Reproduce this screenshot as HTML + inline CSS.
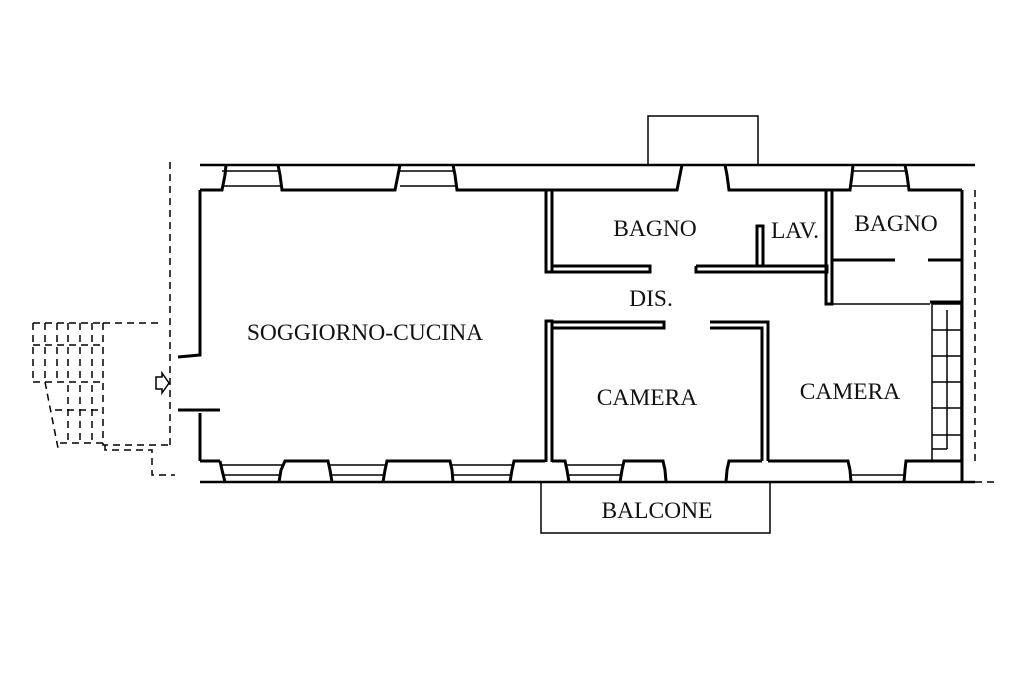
<!DOCTYPE html>
<html><head><meta charset="utf-8"><style>
html,body{margin:0;padding:0;background:#fff;width:1024px;height:682px;overflow:hidden}
svg{display:block}
text{font-family:"Liberation Serif",serif;font-size:23.5px;fill:#111}
</style></head><body>
<svg width="1024" height="682" viewBox="0 0 1024 682">
<g stroke="#000" fill="none" stroke-width="3">
<line x1="200" y1="165" x2="975" y2="165" stroke-width="2.5"/>
<polyline points="200,190 222,190 225,175 226,165"/>
<polyline points="278,165 280,175 282,190 395,190 398,175 400,165"/>
<polyline points="453,165 455,175 457,190 677,190 680,175 682,165"/>
<polyline points="725,165 727,175 729,190 850,190 852,175 853,165"/>
<polyline points="905,165 907,175 909,190 962,190"/>
<line x1="200" y1="482" x2="975" y2="482" stroke-width="2.5"/>
<line x1="200" y1="461" x2="220" y2="461"/>
<polyline points="220,461 222,470 225,482"/>
<polyline points="279,482 281,470 285,461 328,461 330,470 332,482"/>
<polyline points="383,482 385,470 387,461 450,461 452,470 453,482"/>
<polyline points="510,482 512,470 514,461 545,461"/>
<polyline points="552,461 565,461 567,470 569,482"/>
<polyline points="620,482 622,470 624,461 663,461 665,470 666,482"/>
<polyline points="726,482 727,470 729,461 762,461"/>
<polyline points="768,461 848,461 850,470 851,482"/>
<polyline points="904,482 905,470 906,461 962,461 962,482"/>
<polyline points="200,190 200,355 178,357"/>
<polyline points="200,413 200,461"/>
<polyline points="178,410 220,410"/>
<polyline points="546,190 546,272 552,272 552,190"/>
<polyline points="552,266 650,266 650,272 552,272"/>
<polyline points="696,266 827,266 827,272 696,272 696,266"/>
<polyline points="757,266 757,226 763,226 763,266"/>
<polyline points="826,190 826,304 832,304 832,190"/>
<polyline points="832,260 895,260"/>
<polyline points="928,260 962,260"/>
<line x1="962" y1="190" x2="962" y2="461"/>
<polyline points="546,462 546,321 552,321 552,462"/>
<polyline points="552,322 664,322 664,328 552,328"/>
<polyline points="710,322 768,322 768,461"/>
<polyline points="710,328 762,328 762,461"/>
<line x1="930" y1="302" x2="962" y2="302"/>
</g>
<g stroke="#000" fill="none" stroke-width="1.5">
<line x1="222" y1="171" x2="280" y2="171"/><line x1="222" y1="186" x2="280" y2="186"/>
<line x1="400" y1="171" x2="455" y2="171"/><line x1="400" y1="186" x2="455" y2="186"/>
<line x1="852" y1="171" x2="907" y2="171"/><line x1="852" y1="186" x2="907" y2="186"/>
<line x1="222" y1="465" x2="283" y2="465"/><line x1="224" y1="475" x2="281" y2="475"/>
<line x1="330" y1="465" x2="385" y2="465"/><line x1="330" y1="475" x2="385" y2="475"/>
<line x1="452" y1="465" x2="512" y2="465"/><line x1="452" y1="475" x2="512" y2="475"/>
<line x1="567" y1="465" x2="622" y2="465"/><line x1="567" y1="475" x2="622" y2="475"/>
<line x1="850" y1="475" x2="905" y2="475"/>
<polyline points="648,165 648,116 758,116 758,165"/>
<polyline points="541,482 541,533 770,533 770,482"/>
<line x1="832" y1="304" x2="930" y2="304"/>
<rect x="932" y="304" width="29" height="157"/>
<line x1="947" y1="310" x2="947" y2="449"/>
<line x1="932" y1="449" x2="947" y2="449"/>
<line x1="932" y1="330" x2="961" y2="330"/><line x1="932" y1="356" x2="961" y2="356"/>
<line x1="932" y1="382" x2="961" y2="382"/><line x1="932" y1="408" x2="961" y2="408"/>
<line x1="932" y1="435" x2="961" y2="435"/>
</g>
<g stroke="#000" fill="none" stroke-width="1.5" stroke-dasharray="7,5">
<line x1="975" y1="190" x2="975" y2="462"/>
<line x1="975" y1="482" x2="995" y2="482"/>
<line x1="170" y1="162" x2="170" y2="445"/>
<polyline points="33,323 105,323"/>
<polyline points="103,323 160,323 160,320"/>
<polyline points="103,323 103,445 170,445"/>
<polyline points="105,445 105,450 152,450 152,475 175,475"/>
<line x1="33" y1="323" x2="33" y2="382"/>
<line x1="33" y1="382" x2="103" y2="382"/>
<line x1="33" y1="345" x2="103" y2="345"/>
<line x1="55" y1="410" x2="103" y2="410"/>
<line x1="60" y1="443" x2="103" y2="443"/>
<line x1="45" y1="323" x2="45" y2="382"/><line x1="57" y1="323" x2="57" y2="382"/>
<line x1="68" y1="323" x2="68" y2="382"/><line x1="80" y1="323" x2="80" y2="382"/>
<line x1="92" y1="323" x2="92" y2="382"/>
<line x1="45" y1="382" x2="58" y2="448"/>
<line x1="68" y1="385" x2="68" y2="443"/><line x1="80" y1="385" x2="80" y2="443"/>
<line x1="92" y1="385" x2="92" y2="443"/>
</g>
<path d="M156,377 h6 v-4 l7,10 l-7,10 v-4 h-6 z" fill="#fff" stroke="#000" stroke-width="1.5"/>
<text x="365" y="340" text-anchor="middle">SOGGIORNO-CUCINA</text>
<text x="655" y="236" text-anchor="middle">BAGNO</text>
<text x="795" y="238" text-anchor="middle">LAV.</text>
<text x="896" y="231" text-anchor="middle">BAGNO</text>
<text x="651" y="306" text-anchor="middle">DIS.</text>
<text x="647" y="405" text-anchor="middle">CAMERA</text>
<text x="850" y="399" text-anchor="middle">CAMERA</text>
<text x="657" y="518" text-anchor="middle">BALCONE</text>
</svg>
</body></html>
